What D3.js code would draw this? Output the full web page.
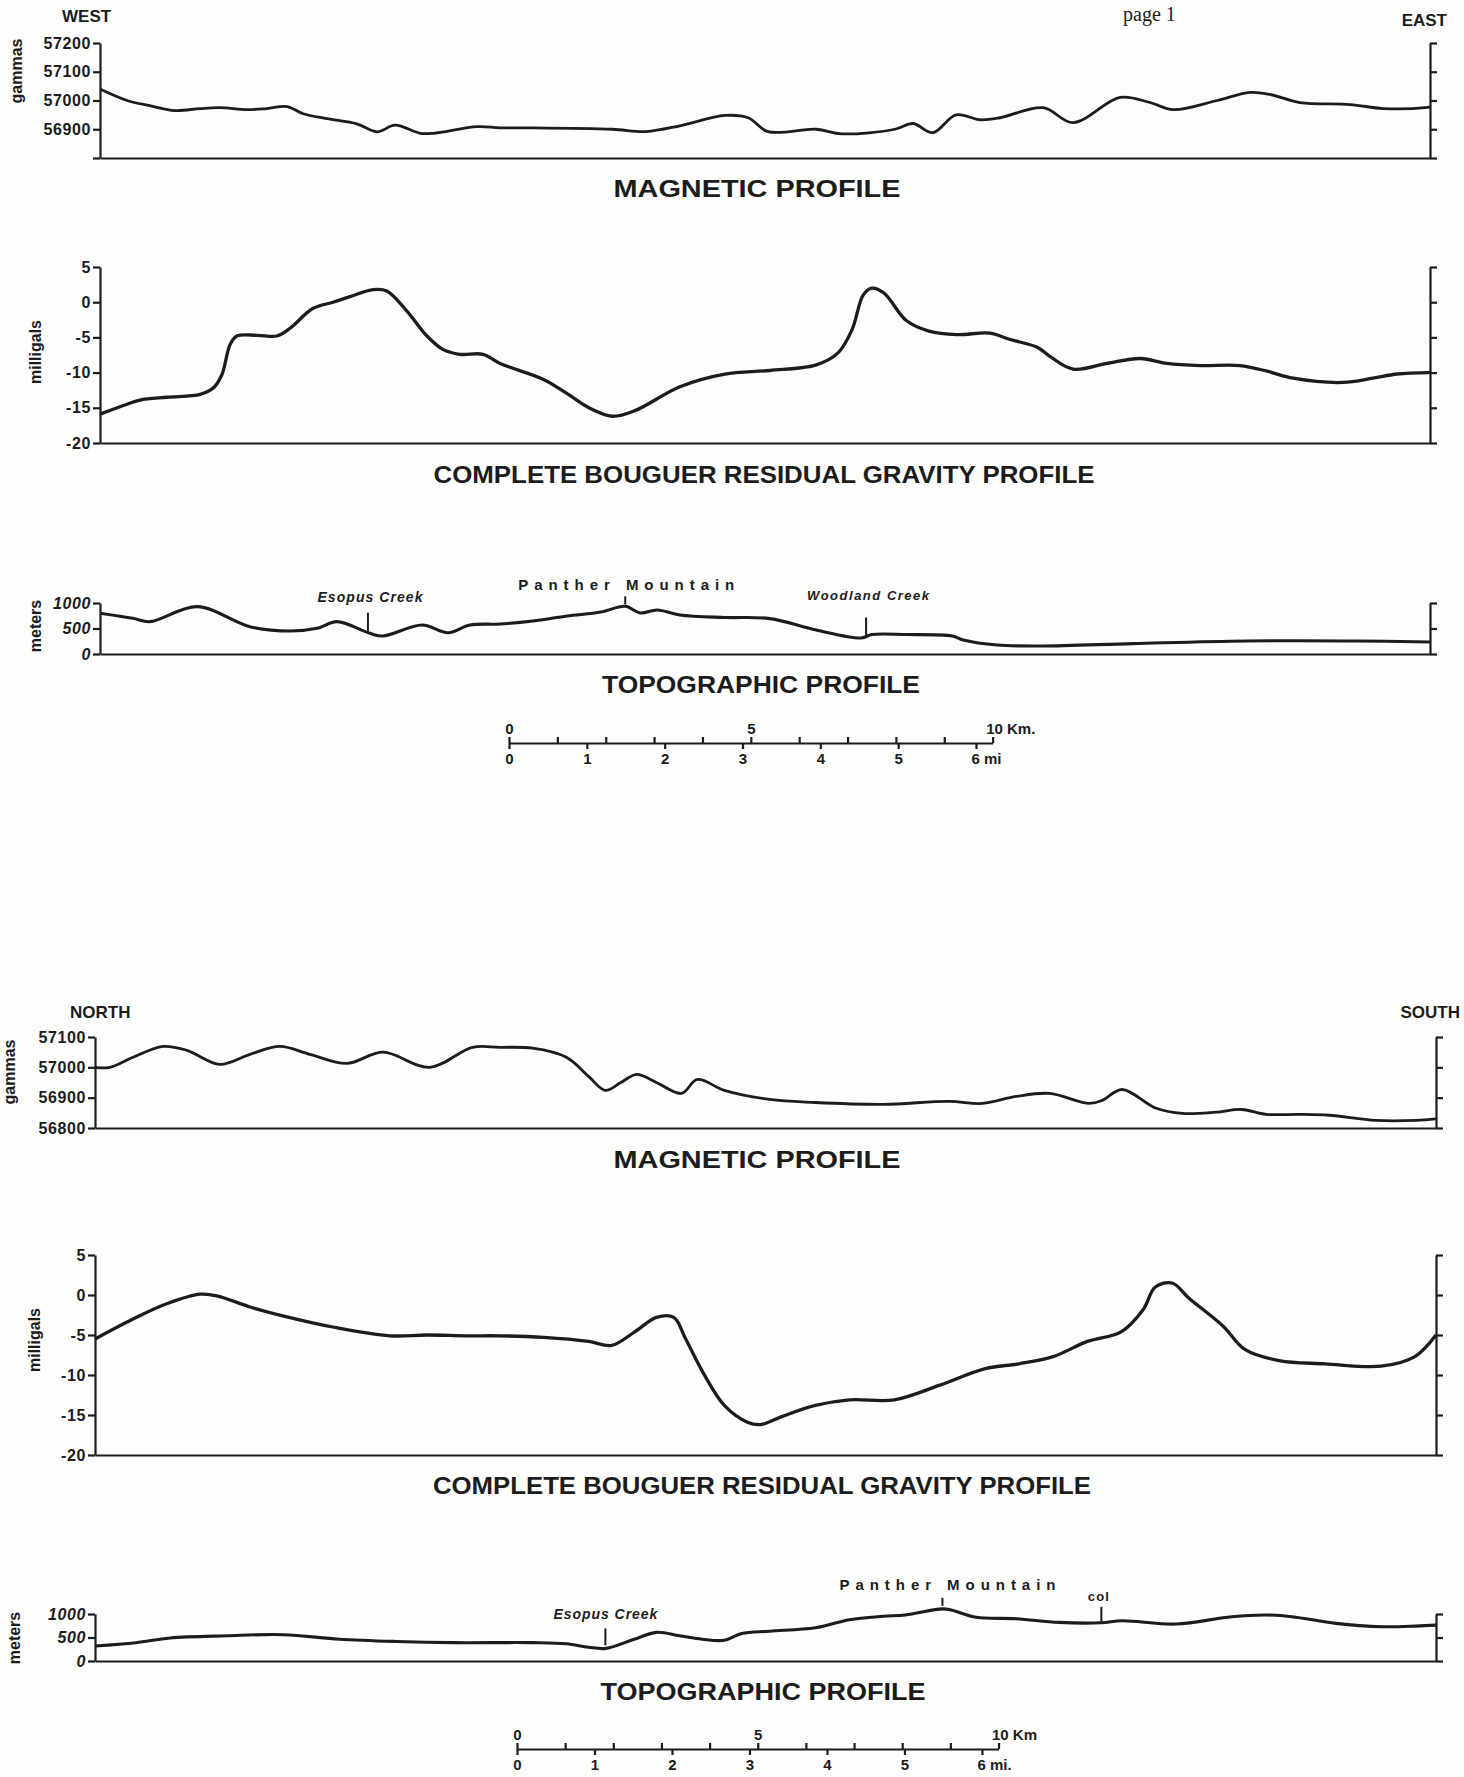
<!DOCTYPE html>
<html>
<head>
<meta charset="utf-8">
<script src="https://cdn.jsdelivr.net/npm/d3@7"></script>
<style>
  body { margin: 0; background: #fdfdfc; }
  text { font-family: "Liberation Sans", Arial, sans-serif; font-weight: bold; fill: #1c1c1c; }
</style>
</head>
<body>
<div id="chart"></div>
<script>
// ---- data: distance along profile (km) and readings ----

// WEST - EAST line
const magWestKm  = [0, 0.56, 1.03, 1.55, 2.07, 2.48, 3.04, 3.45, 3.87, 4.2, 4.69, 5.31, 5.73, 6.1, 6.62, 6.89, 7.8, 8.27, 8.95, 10.59, 11.29, 11.99, 12.92, 13.4, 13.81, 14.81, 15.34, 16.44, 16.81, 17.22, 17.7, 18.2, 18.61, 19.5, 20.12, 21.09, 21.71, 22.19, 23.1, 23.78, 24.19, 24.81, 25.85, 26.53, 27.4, 27.5];
const magWestVal = [57040, 57000, 56982, 56965, 56972, 56975, 56968, 56972, 56979, 56954, 56937, 56919, 56891, 56914, 56886, 56886, 56909, 56905, 56905, 56900, 56892, 56912, 56948, 56940, 56892, 56900, 56884, 56900, 56920, 56888, 56950, 56933, 56940, 56975, 56923, 57011, 56993, 56968, 57000, 57028, 57021, 56993, 56986, 56972, 56975, 56978];

const gravWestKm  = [0, 0.56, 0.83, 1.39, 2.07, 2.34, 2.52, 2.69, 2.83, 3.25, 3.66, 3.93, 4.4, 4.82, 5.17, 5.65, 5.93, 6.35, 6.76, 7.09, 7.44, 7.92, 8.27, 9.18, 9.66, 10.11, 10.59, 11.06, 11.99, 12.92, 13.85, 14.81, 15.26, 15.55, 15.78, 15.96, 16.21, 16.67, 17.14, 17.72, 18.4, 18.82, 19.38, 19.64, 20.12, 20.82, 21.51, 22.06, 22.75, 23.57, 24.13, 24.67, 25.7, 26.32, 26.82, 27.5];
const gravWestVal = [-15.9, -14.5, -13.9, -13.5, -13.1, -12.2, -10.3, -6.0, -4.8, -4.7, -4.8, -3.7, -0.9, 0, 0.8, 1.8, 1.6, -1.3, -4.8, -6.7, -7.4, -7.4, -8.7, -11, -13, -15, -16.2, -15.4, -12, -10.2, -9.7, -8.9, -7.2, -3.9, 1, 2, 1.3, -2.6, -4.1, -4.6, -4.4, -5.3, -6.4, -7.7, -9.5, -8.7, -8.0, -8.7, -9.0, -9.0, -9.8, -10.8, -11.4, -10.8, -10.2, -10.0];

const topoWestKm  = [0, 0.68, 1.03, 2.01, 3.1, 3.93, 4.49, 4.9, 5.58, 5.85, 6.66, 7.2, 7.65, 8.27, 8.95, 9.66, 10.36, 10.86, 11.17, 11.52, 11.99, 12.92, 13.85, 14.81, 15.74, 15.96, 16.67, 17.62, 17.85, 18.55, 19.48, 21.36, 23.7, 26.05, 27.5];
const topoWestVal = [800, 700, 634, 928, 536, 451, 503, 634, 405, 353, 568, 418, 568, 588, 647, 745, 824, 935, 804, 863, 765, 716, 694, 470, 314, 382, 382, 353, 275, 176, 157, 204, 255, 255, 235];

// NORTH - SOUTH line
const magNorthKm  = [0, 0.31, 0.79, 1.41, 1.91, 2.59, 3.22, 3.84, 4.46, 5.23, 5.98, 6.95, 7.84, 8.4, 9.09, 9.79, 10.25, 10.6, 10.92, 11.25, 11.66, 12.18, 12.51, 13.07, 14.01, 14.96, 16.37, 17.74, 18.43, 19.13, 19.82, 20.65, 20.92, 21.33, 22.04, 22.58, 23.28, 23.82, 24.32, 25.01, 25.63, 26.6, 27.43, 27.85];
const magNorthVal = [57000, 57000, 57033, 57069, 57056, 57010, 57043, 57069, 57043, 57013, 57050, 57000, 57066, 57066, 57063, 57033, 56970, 56924, 56950, 56977, 56950, 56914, 56960, 56924, 56894, 56884, 56878, 56888, 56881, 56904, 56914, 56881, 56891, 56927, 56865, 56848, 56852, 56861, 56845, 56845, 56842, 56825, 56825, 56830];

const gravNorthKm  = [0, 0.79, 1.49, 2.18, 2.53, 3.22, 3.9, 4.94, 6.12, 6.89, 7.72, 8.4, 9.32, 10.25, 10.73, 11.21, 11.66, 12.02, 12.26, 12.62, 13.07, 13.55, 13.82, 14.26, 14.96, 15.67, 16.6, 17.53, 18.49, 19.19, 19.9, 20.61, 21.31, 21.77, 22.02, 22.37, 22.72, 23.43, 23.88, 24.59, 25.54, 26.71, 27.41, 27.85];
const gravNorthVal = [-5.5, -3.0, -1.1, 0.1, -0.1, -1.5, -2.6, -4.0, -5.1, -5.0, -5.1, -5.1, -5.3, -5.8, -6.3, -4.6, -2.8, -2.8, -5.4, -9.6, -13.8, -15.9, -16.2, -15.2, -13.8, -13.1, -13.1, -11.3, -9.2, -8.6, -7.7, -5.8, -4.6, -1.8, 1, 1.5, -0.4, -3.9, -6.8, -8.2, -8.6, -8.9, -7.7, -5];

const topoNorthKm  = [0, 0.85, 1.56, 2.73, 3.91, 5.08, 6.26, 7.43, 9.08, 9.79, 10.25, 10.61, 11.2, 11.66, 12.14, 12.61, 13.07, 13.43, 14.01, 14.96, 15.67, 16.37, 16.83, 17.6, 17.8, 18.3, 19.13, 20.02, 20.9, 21.33, 22.45, 23.61, 24.32, 24.86, 25.77, 26.73, 27.43, 27.85];
const topoNorthVal = [320, 390, 490, 537, 560, 463, 415, 390, 390, 366, 293, 268, 463, 610, 537, 463, 440, 585, 634, 707, 878, 951, 980, 1110, 1080, 929, 900, 821, 814, 857, 786, 943, 979, 943, 800, 729, 743, 764];

// tick values
const magWestTicks  = [56800, 56900, 57000, 57100, 57200];
const magNorthTicks = [56800, 56900, 57000, 57100];
const gravTicks = [-20, -15, -10, -5, 0, 5];
const topoTicks = [0, 500, 1000];
const kmTicks = [0, 1, 2, 3, 4, 5, 6, 7, 8, 9, 10];
const miTicks = [0, 1, 2, 3, 4, 5, 6];

// place names on the topographic profiles
const westNotes   = ["Esopus Creek", "Panther Mountain", "Woodland Creek"];
const westNoteKm  = [5.54, 10.86, 15.84];
const northNotes  = ["Esopus Creek", "Panther Mountain", "col"];
const northNoteKm = [10.6, 17.6, 20.9];

// ---- drawing ----
const W = 1464, H = 1777;
const svg = d3.select("#chart").append("svg")
  .attr("width", W).attr("height", H)
  .attr("viewBox", [0, 0, W, H].join(" "));

svg.append("rect").attr("width", W).attr("height", H).attr("fill", "#fdfdfc");

const ink = "#1c1c1c";
const westX  = d3.scaleLinear().domain([0, 27.5]).range([100, 1430]);
const northX = d3.scaleLinear().domain([0, 27.85]).range([95, 1436]);

function valueAt(km, vals, at) {
  const i = Math.max(1, d3.bisectLeft(km, at));
  const t = (at - km[i - 1]) / (km[i] - km[i - 1]);
  return vals[i - 1] + t * (vals[i] - vals[i - 1]);
}

function styleAxis(g) {
  g.attr("font-family", null).attr("font-size", null);
  g.selectAll("path, line").attr("stroke", ink).attr("stroke-width", 2.2);
}

function panel(p) {
  const x = p.x;
  const y = d3.scaleLinear().domain(p.domain).range(p.range);
  const left = x.range()[0], right = x.range()[1];
  const g = svg.append("g");

  g.append("g")
    .attr("transform", `translate(${left},0)`)
    .call(d3.axisLeft(y).tickValues(p.ticks).tickSize(7).tickSizeOuter(0).tickPadding(2).tickFormat(p.fmt))
    .call(styleAxis)
    .selectAll("text")
      .style("font-size", "16px")
      .style("letter-spacing", "0.6px")
      .style("font-style", p.italic ? "italic" : "normal")
      .attr("fill", ink);

  g.append("g")
    .attr("transform", `translate(${right},0)`)
    .call(d3.axisRight(y).tickValues(p.ticks).tickSize(7).tickSizeOuter(0).tickFormat(""))
    .call(styleAxis);

  g.append("g")
    .attr("transform", `translate(0,${p.range[0]})`)
    .call(d3.axisBottom(x).tickValues([]).tickSizeOuter(0))
    .call(styleAxis);

  const line = d3.line()
    .x((d, i) => x(p.km[i]))
    .y(d => y(d))
    .curve(d3.curveCatmullRom.alpha(0.5));

  g.append("path")
    .datum(p.vals)
    .attr("d", line)
    .attr("fill", "none")
    .attr("stroke", ink)
    .attr("stroke-width", p.lw)
    .attr("stroke-linejoin", "round");

  g.append("text")
    .attr("transform", `translate(${p.lx},${p.ly}) rotate(-90)`)
    .attr("text-anchor", "middle")
    .attr("dominant-baseline", "central")
    .style("font-size", "16px")
    .text(p.label);

  g.append("text")
    .attr("x", p.tx).attr("y", p.ty)
    .attr("text-anchor", "middle")
    .attr("textLength", p.tw)
    .attr("lengthAdjust", "spacingAndGlyphs")
    .style("font-size", "24px")
    .text(p.title);

  return { x, y };
}

function notes(p, names, kms, km, vals, cfg) {
  names.forEach((name, i) => {
    const c = cfg[i];
    const cx = p.x(kms[i]);
    const cy = p.y(valueAt(km, vals, kms[i]));
    const bottom = cy - c.gap, top = bottom - c.len;
    svg.append("line")
      .attr("x1", cx).attr("x2", cx).attr("y1", top).attr("y2", bottom)
      .attr("stroke", ink).attr("stroke-width", 2);
    svg.append("text")
      .attr("x", cx + c.dx).attr("y", top - c.dy)
      .attr("text-anchor", "middle")
      .attr("textLength", c.w)
      .attr("lengthAdjust", "spacing")
      .style("font-size", c.size + "px")
      .style("font-style", c.italic ? "italic" : "normal")
      .text(name);
  });
}

function scaleBar(x0, pxPerKm, yBar, kmLabel, miLabel) {
  const kmScale = d3.scaleLinear().domain([0, 10]).range([x0, x0 + 10 * pxPerKm]);
  const miScale = d3.scaleLinear().domain([0, 6]).range([x0, x0 + 6 * 1.609344 * pxPerKm]);

  const top = svg.append("g")
    .attr("transform", `translate(0,${yBar})`)
    .call(d3.axisTop(kmScale).tickValues(kmTicks).tickSize(6).tickSizeOuter(0).tickPadding(3)
      .tickFormat(d => d === 0 ? "0" : d === 5 ? "5" : d === 10 ? kmLabel : ""))
    .call(styleAxis);
  top.selectAll("text").style("font-size", "15px").attr("fill", ink);
  top.selectAll(".tick").filter(d => d === 10).select("text")
    .attr("text-anchor", "start").attr("dx", -7);

  const bot = svg.append("g")
    .attr("transform", `translate(0,${yBar})`)
    .call(d3.axisBottom(miScale).tickValues(miTicks).tickSize(6).tickSizeOuter(0).tickPadding(4)
      .tickFormat(d => d === 6 ? miLabel : d))
    .call(styleAxis);
  bot.select(".domain").remove();
  bot.selectAll("text").style("font-size", "15px").attr("fill", ink);
  bot.selectAll(".tick").filter(d => d === 6).select("text")
    .attr("text-anchor", "start").attr("dx", -5);
}

function dirLabel(txt, x, y, anchor) {
  svg.append("text").attr("x", x).attr("y", y).attr("text-anchor", anchor)
    .style("font-size", "17px").text(txt);
}

// page mark at the top edge
svg.append("text").attr("x", 1123).attr("y", 21)
  .style("font-family", "'Liberation Serif', 'DejaVu Serif', serif")
  .style("font-weight", "normal").style("font-size", "20px")
  .text("page 1");

// WEST - EAST
dirLabel("WEST", 62, 22, "start");
dirLabel("EAST", 1447, 26, "end");

panel({ x: westX, domain: [56800, 57200], range: [158, 43], ticks: magWestTicks,
  fmt: d => d === 56800 ? "" : d, km: magWestKm, vals: magWestVal, lw: 2.8,
  label: "gammas", lx: 16, ly: 71, title: "MAGNETIC PROFILE", tx: 757, ty: 197, tw: 287 });

panel({ x: westX, domain: [-20, 5], range: [443, 267], ticks: gravTicks,
  fmt: d => d, km: gravWestKm, vals: gravWestVal, lw: 3.3,
  label: "milligals", lx: 35, ly: 352, title: "COMPLETE BOUGUER RESIDUAL GRAVITY PROFILE", tx: 764, ty: 483, tw: 661 });

const topoW = panel({ x: westX, domain: [0, 1000], range: [654, 603], ticks: topoTicks,
  fmt: d => d, km: topoWestKm, vals: topoWestVal, lw: 3.1, italic: true,
  label: "meters", lx: 35, ly: 626, title: "TOPOGRAPHIC PROFILE", tx: 761, ty: 693, tw: 318 });

notes(topoW, westNotes, westNoteKm, topoWestKm, topoWestVal, [
  { gap: 1, len: 19, dx: 2, dy: 11, w: 105, size: 14, italic: true },
  { gap: 2, len: 8, dx: 1, dy: 6, w: 216, size: 15 },
  { gap: 0, len: 19, dx: 2, dy: 17, w: 122, size: 13, italic: true }
]);

scaleBar(509, westX(1) - westX(0), 743, "10 Km.", "6 mi");

// NORTH - SOUTH
dirLabel("NORTH", 70, 1018, "start");
dirLabel("SOUTH", 1460, 1018, "end");

panel({ x: northX, domain: [56800, 57100], range: [1128, 1037], ticks: magNorthTicks,
  fmt: d => d, km: magNorthKm, vals: magNorthVal, lw: 2.8,
  label: "gammas", lx: 9, ly: 1072, title: "MAGNETIC PROFILE", tx: 757, ty: 1168, tw: 287 });

panel({ x: northX, domain: [-20, 5], range: [1455, 1255], ticks: gravTicks,
  fmt: d => d, km: gravNorthKm, vals: gravNorthVal, lw: 3.3,
  label: "milligals", lx: 34, ly: 1340, title: "COMPLETE BOUGUER RESIDUAL GRAVITY PROFILE", tx: 762, ty: 1494, tw: 658 });

const topoN = panel({ x: northX, domain: [0, 1000], range: [1661, 1614], ticks: topoTicks,
  fmt: d => d, km: topoNorthKm, vals: topoNorthVal, lw: 3.1, italic: true,
  label: "meters", lx: 14, ly: 1638, title: "TOPOGRAPHIC PROFILE", tx: 763, ty: 1700, tw: 325 });

notes(topoN, northNotes, northNoteKm, topoNorthKm, topoNorthVal, [
  { gap: 3, len: 17, dx: 0, dy: 9, w: 104, size: 14, italic: true },
  { gap: 3, len: 8, dx: 5, dy: 8, w: 216, size: 15 },
  { gap: 1, len: 15, dx: -3, dy: 6, w: 21, size: 13 }
]);

scaleBar(517, northX(1) - northX(0), 1749, "10 Km", "6 mi.");
</script>
</body>
</html>
